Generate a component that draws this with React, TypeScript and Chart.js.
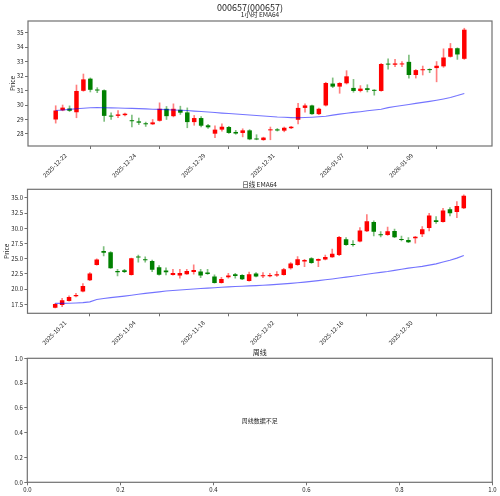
import React, { useEffect, useRef } from 'react';
import { Chart, registerables } from 'chart.js';

Chart.register(...registerables);

const FONT = '"Noto Sans CJK SC", "DejaVu Sans", sans-serif';
const TEXT = '#222222';
const FRAME = '#707070';
const UP = '#ff0000';
const DOWN = '#008000';
const UP_WICK = 'rgba(255,0,0,0.5)';
const DOWN_WICK = 'rgba(0,128,0,0.5)';
const EMA_COLOR = 'rgba(0,0,255,0.55)';

// ---------- 1 hour ----------
const hourlyTickLabels = ['2025-12-22', '2025-12-24', '2025-12-29', '2025-12-31', '2026-01-07', '2026-01-09', ''];
const hourlyOpen = [29.0, 29.63, 29.76, 29.5, 30.98, 31.82, 31.07, 31.02, 29.23, 29.25, 29.3, 28.93, 28.87, 28.73, 28.67, 28.91, 29.74, 29.23, 29.67, 29.49, 28.82, 29.1, 28.6, 28.02, 28.3, 28.48, 28.14, 28.07, 28.25, 27.66, 27.58, 28.25, 28.32, 28.23, 28.4, 28.98, 29.8, 29.97, 29.37, 29.97, 31.48, 31.27, 31.5, 31.18, 30.97, 31.16, 31.04, 30.97, 32.85, 32.78, 32.8, 32.98, 32.07, 32.4, 32.48, 32.55, 32.67, 33.33, 33.92, 33.19];
const hourlyHigh = [29.95, 30.0, 29.94, 31.38, 32.14, 31.87, 31.2, 31.05, 29.46, 29.62, 29.45, 29.3, 29.1, 28.82, 29.0, 30.15, 29.9, 30.08, 29.92, 29.8, 29.28, 29.2, 28.66, 28.57, 28.7, 28.52, 28.25, 28.36, 28.3, 27.95, 27.78, 28.48, 28.38, 28.48, 28.52, 30.12, 30.08, 30.0, 29.78, 31.57, 31.87, 31.55, 32.37, 31.77, 31.34, 31.4, 31.06, 32.87, 33.19, 33.15, 33.0, 33.44, 32.45, 32.69, 32.5, 33.0, 33.88, 34.25, 33.95, 35.3];
const hourlyLow = [28.75, 29.6, 29.55, 29.12, 30.95, 30.9, 30.85, 28.87, 29.0, 29.12, 29.25, 28.48, 28.65, 28.52, 28.65, 28.88, 29.0, 29.18, 29.35, 28.43, 28.6, 28.48, 28.38, 27.75, 28.2, 28.04, 27.98, 27.8, 27.6, 27.6, 27.56, 27.6, 28.2, 28.15, 28.37, 28.7, 29.5, 29.35, 29.33, 29.93, 31.2, 30.81, 31.45, 30.88, 30.9, 30.9, 30.68, 30.95, 32.48, 32.64, 32.64, 31.86, 31.86, 32.07, 32.23, 31.6, 32.6, 33.3, 33.15, 33.15];
const hourlyClose = [29.62, 29.82, 29.6, 30.97, 31.77, 31.05, 31.0, 29.25, 29.2, 29.35, 29.4, 28.88, 28.78, 28.67, 28.8, 29.74, 29.23, 29.74, 29.47, 28.82, 29.1, 28.57, 28.46, 28.3, 28.5, 28.07, 28.03, 28.25, 27.63, 27.62, 27.75, 28.32, 28.24, 28.43, 28.5, 29.8, 29.97, 29.37, 29.74, 31.52, 31.27, 31.52, 31.98, 30.97, 31.13, 31.04, 30.98, 32.83, 32.79, 32.87, 32.87, 32.07, 32.41, 32.46, 32.41, 32.71, 33.28, 33.92, 33.49, 35.2];
const hourlyEma = [29.62, 29.66, 29.7, 29.74, 29.78, 29.81, 29.82, 29.81, 29.8, 29.79, 29.78, 29.77, 29.75, 29.73, 29.71, 29.7, 29.68, 29.66, 29.64, 29.62, 29.58, 29.55, 29.52, 29.48, 29.44, 29.41, 29.38, 29.34, 29.31, 29.28, 29.24, 29.21, 29.17, 29.15, 29.13, 29.12, 29.14, 29.16, 29.19, 29.22, 29.3, 29.37, 29.43, 29.49, 29.54, 29.6, 29.66, 29.71, 29.82, 29.9, 29.97, 30.04, 30.11, 30.18, 30.25, 30.33, 30.42, 30.52, 30.65, 30.8];
const hourlyYTicks = [28, 29, 30, 31, 32, 33, 34, 35];

// ---------- daily ----------
const dailyTickLabels = ['2025-10-21', '2025-11-04', '2025-11-18', '2025-12-02', '2025-12-16', '2025-12-30', ''];
const dailyOpen = [16.95, 17.4, 18.06, 18.83, 19.6, 21.46, 23.98, 26.28, 26.06, 23.0, 23.1, 22.34, 25.3, 24.86, 24.64, 23.6, 23.05, 22.34, 22.23, 22.45, 22.83, 22.88, 22.72, 22.06, 21.02, 21.95, 22.45, 22.34, 21.35, 22.56, 22.12, 22.12, 22.23, 22.34, 23.43, 23.98, 24.53, 25.08, 24.69, 24.86, 25.24, 25.63, 28.2, 27.38, 27.82, 29.52, 31.05, 28.97, 28.91, 29.57, 28.2, 28.09, 28.37, 29.02, 30.07, 31.33, 31.05, 33.14, 32.7, 33.3];
const dailyHigh = [17.6, 18.5, 18.88, 19.32, 20.9, 22.72, 24.97, 27.0, 26.17, 23.27, 23.27, 25.1, 25.62, 25.3, 24.8, 23.87, 23.49, 23.27, 23.27, 23.27, 23.98, 23.27, 23.27, 22.34, 21.95, 22.61, 22.61, 22.4, 22.8, 22.72, 22.72, 22.6, 22.88, 23.43, 24.36, 25.35, 24.91, 25.19, 25.0, 25.62, 26.61, 28.7, 28.48, 27.98, 30.12, 32.26, 31.22, 29.46, 30.23, 29.9, 28.75, 28.48, 28.7, 30.29, 32.48, 31.93, 33.3, 33.41, 34.4, 35.5];
const dailyLow = [16.9, 17.13, 18.0, 18.72, 19.55, 21.4, 23.95, 25.46, 23.4, 22.17, 22.7, 22.3, 24.42, 24.42, 22.88, 22.3, 22.34, 22.3, 21.79, 22.4, 22.45, 21.9, 22.4, 20.97, 20.97, 21.79, 21.79, 21.55, 21.3, 22.0, 21.9, 22.0, 22.1, 22.3, 23.3, 23.9, 23.7, 24.25, 23.7, 24.8, 25.2, 25.5, 27.2, 27.05, 27.75, 29.45, 28.75, 28.59, 28.85, 28.45, 27.93, 27.65, 27.55, 28.64, 29.57, 30.83, 31.0, 32.04, 31.77, 33.25];
const dailyClose = [17.55, 18.17, 18.72, 19.05, 20.53, 22.56, 24.86, 26.0, 23.43, 22.78, 22.8, 25.08, 25.2, 24.76, 23.2, 22.35, 22.78, 22.66, 22.66, 23.0, 23.16, 22.23, 22.5, 21.02, 21.68, 22.23, 22.17, 21.62, 22.45, 22.06, 22.28, 22.34, 22.45, 23.27, 24.2, 24.91, 24.8, 24.31, 24.97, 25.3, 25.84, 28.59, 27.27, 27.28, 29.63, 31.16, 29.46, 28.87, 29.52, 28.53, 28.1, 27.71, 28.64, 29.85, 32.1, 31.05, 32.92, 32.48, 33.68, 35.38];
const dailyEma = [17.65, 17.66, 17.68, 17.72, 17.78, 17.9, 18.3, 18.45, 18.6, 18.72, 18.85, 19.0, 19.15, 19.3, 19.42, 19.55, 19.68, 19.78, 19.86, 19.94, 20.02, 20.1, 20.17, 20.23, 20.3, 20.37, 20.43, 20.48, 20.53, 20.58, 20.64, 20.7, 20.78, 20.86, 20.95, 21.05, 21.15, 21.27, 21.4, 21.53, 21.67, 21.83, 21.98, 22.12, 22.27, 22.45, 22.6, 22.75, 22.9, 23.08, 23.28, 23.45, 23.6, 23.75, 23.95, 24.15, 24.45, 24.75, 25.1, 25.55];
const dailyYTicks = [17.5, 20.0, 22.5, 25.0, 27.5, 30.0, 32.5, 35.0];

// ---------- weekly (empty) ----------
const weeklyTicks = [0, 0.2, 0.4, 0.6, 0.8, 1.0];

const framePlugin = {
  id: 'frame',
  afterDraw(chart: any) {
    const { ctx, chartArea: a } = chart;
    ctx.save();
    ctx.strokeStyle = FRAME;
    ctx.lineWidth = 1.2;
    ctx.strokeRect(a.left, a.top, a.right - a.left, a.bottom - a.top);
    ctx.restore();
  },
};

const textPlugin = {
  id: 'texts',
  afterDraw(chart: any, _args: any, opts: any) {
    const { ctx, chartArea: a } = chart;
    ctx.save();
    ctx.fillStyle = TEXT;
    ctx.textAlign = 'center';
    ctx.textBaseline = 'middle';
    for (const t of opts.items || []) {
      ctx.font = `${t.size}px ${FONT}`;
      let x = (a.left + a.right) / 2;
      let y = a.top + (t.dy || 0);
      if (t.fig) x = chart.width / 2;
      if (t.center) {
        x = chart.scales.x.getPixelForValue(0.5);
        y = chart.scales.y.getPixelForValue(0.5);
      }
      ctx.fillText(t.text, x, y);
    }
    ctx.restore();
  },
};

type Box = { left: number; top: number; right: number; bottom: number; xh: number; titlePad: number };

function tickFont(size = 6) {
  return { family: FONT, size };
}

function candleConfig(
  open: number[], high: number[], low: number[], close: number[], ema: number[],
  tickLabels: string[], yTicks: number[], yMin: number, yMax: number, decimals: number,
  box: Box, texts: any[],
) {
  const up = open.map((o, i) => close[i] >= o);
  const bodies = open.map((o, i) => ({ x: i, y: [o, close[i]] }));
  const wicks = open.map((_o, i) => ({ x: i, y: [low[i], high[i]] }));
  const emaPts = ema.map((v, i) => ({ x: i, y: v }));
  const xTickVals = tickLabels.map((_l, k) => k * 10);
  return {
    type: 'bar',
    data: {
      datasets: [
        {
          type: 'line', data: emaPts, borderColor: EMA_COLOR, borderWidth: 1.1,
          pointRadius: 0, tension: 0, fill: false,
        },
        {
          type: 'bar', data: bodies, grouped: false,
          backgroundColor: up.map((u) => (u ? UP : DOWN)),
          borderWidth: 0, categoryPercentage: 1, barPercentage: 0.65, minBarLength: 1,
        },
        {
          type: 'bar', data: wicks, grouped: false,
          backgroundColor: up.map((u) => (u ? UP_WICK : DOWN_WICK)),
          borderWidth: 0, barThickness: 1,
        },
      ],
    },
    options: {
      animation: false,
      responsive: false,
      events: [],
      layout: { padding: { left: 0, top: box.top, right: 500 - box.right, bottom: 496 - box.bottom - box.xh } },
      plugins: {
        legend: { display: false },
        tooltip: { enabled: false },
        texts: { items: texts },
      },
      scales: {
        x: {
          type: 'linear', min: -4, max: 63, offset: false,
          afterBuildTicks: (s: any) => { s.ticks = xTickVals.map((v) => ({ value: v })); },
          afterFit: (s: any) => { s.height = box.xh; s.paddingLeft = 0; s.paddingRight = 0; },
          ticks: {
            autoSkip: false, minRotation: 45, maxRotation: 45, padding: 3, labelOffset: 10,
            font: tickFont(6), color: TEXT,
            callback: (v: any) => tickLabels[Math.round(Number(v) / 10)] ?? '',
          },
          grid: { display: true, drawOnChartArea: false, drawTicks: true, tickLength: 3, color: FRAME },
          border: { display: false },
        },
        y: {
          type: 'linear', min: yMin, max: yMax,
          afterBuildTicks: (s: any) => { s.ticks = yTicks.map((v) => ({ value: v })); },
          afterFit: (s: any) => { s.width = box.left; s.paddingTop = 0; s.paddingBottom = 0; },
          ticks: {
            autoSkip: false, padding: 1.5, font: tickFont(6), color: TEXT,
            callback: (v: any) => Number(v).toFixed(decimals),
          },
          grid: { display: true, drawOnChartArea: false, drawTicks: true, tickLength: 3, color: FRAME },
          border: { display: false },
          title: {
            display: true, text: 'Price', color: TEXT,
            font: { family: FONT, size: 6.5 }, padding: { top: box.titlePad, bottom: 0 },
          },
        },
      },
    },
    plugins: [framePlugin, textPlugin],
  };
}

function emptyConfig(box: Box, texts: any[]) {
  return {
    type: 'scatter',
    data: { datasets: [{ data: [] as any[] }] },
    options: {
      animation: false,
      responsive: false,
      events: [],
      layout: { padding: { left: 0, top: box.top, right: 500 - box.right, bottom: 496 - box.bottom - box.xh } },
      plugins: {
        legend: { display: false },
        tooltip: { enabled: false },
        texts: { items: texts },
      },
      scales: {
        x: {
          type: 'linear', min: 0, max: 1,
          afterBuildTicks: (s: any) => { s.ticks = weeklyTicks.map((v) => ({ value: v })); },
          afterFit: (s: any) => { s.height = box.xh; s.paddingLeft = 0; s.paddingRight = 0; },
          ticks: {
            autoSkip: false, minRotation: 0, maxRotation: 0, padding: 1,
            font: tickFont(6), color: TEXT, callback: (v: any) => Number(v).toFixed(1),
          },
          grid: { display: true, drawOnChartArea: false, drawTicks: true, tickLength: 3, color: FRAME },
          border: { display: false },
        },
        y: {
          type: 'linear', min: 0, max: 1,
          afterBuildTicks: (s: any) => { s.ticks = weeklyTicks.map((v) => ({ value: v })); },
          afterFit: (s: any) => { s.width = box.left; s.paddingTop = 0; s.paddingBottom = 0; },
          ticks: {
            autoSkip: false, padding: 1.5, font: tickFont(6), color: TEXT,
            callback: (v: any) => Number(v).toFixed(1),
          },
          grid: { display: true, drawOnChartArea: false, drawTicks: true, tickLength: 3, color: FRAME },
          border: { display: false },
        },
      },
    },
    plugins: [framePlugin, textPlugin],
  };
}

const canvasStyle: React.CSSProperties = { position: 'absolute', left: 0, top: 0, width: 500, height: 496 };

export default function App() {
  const r1 = useRef<HTMLCanvasElement>(null);
  const r2 = useRef<HTMLCanvasElement>(null);
  const r3 = useRef<HTMLCanvasElement>(null);

  useEffect(() => {
    const charts: Chart[] = [];
    const c1 = candleConfig(
      hourlyOpen, hourlyHigh, hourlyLow, hourlyClose, hourlyEma,
      hourlyTickLabels, hourlyYTicks, 27.17, 35.8, 0,
      { left: 28, top: 21, right: 492, bottom: 146, xh: 34, titlePad: 8.5 },
      [
        { text: '000657(000657)', size: 9, dy: -13.5, fig: true },
        { text: '1小时 EMA64', size: 6.5, dy: -6 },
      ],
    );
    const c2 = candleConfig(
      dailyOpen, dailyHigh, dailyLow, dailyClose, dailyEma,
      dailyTickLabels, dailyYTicks, 16.02, 36.43, 1,
      { left: 27.5, top: 189.3, right: 491.5, bottom: 313.3, xh: 34, titlePad: 2.5 },
      [{ text: '日线 EMA64', size: 6.5, dy: -4.6 }],
    );
    const c3 = emptyConfig(
      { left: 27.3, top: 358.3, right: 492.3, bottom: 482.3, xh: 13.7, titlePad: 0 },
      [
        { text: '周线', size: 7, dy: -5.6 },
        { text: '周线数据不足', size: 6, center: true },
      ],
    );
    if (r1.current) charts.push(new Chart(r1.current, c1 as any));
    if (r2.current) charts.push(new Chart(r2.current, c2 as any));
    if (r3.current) charts.push(new Chart(r3.current, c3 as any));
    return () => charts.forEach((c) => c.destroy());
  }, []);

  return (
    <div style={{ position: 'fixed', left: 0, top: 0, width: 500, height: 496, background: '#ffffff', overflow: 'hidden' }}>
      <canvas ref={r1} width={500} height={496} style={canvasStyle} />
      <canvas ref={r2} width={500} height={496} style={canvasStyle} />
      <canvas ref={r3} width={500} height={496} style={canvasStyle} />
    </div>
  );
}
